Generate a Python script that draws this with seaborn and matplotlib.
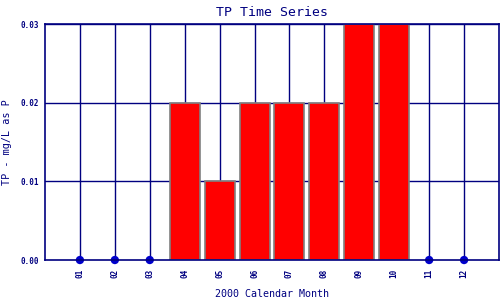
import matplotlib
matplotlib.use("Agg")
import matplotlib.pyplot as plt
import seaborn as sns
import pandas as pd

months = ["01", "02", "03", "04", "05", "06", "07", "08", "09", "10", "11", "12"]
tp_values = [0.0, 0.0, 0.0, 0.02, 0.01, 0.02, 0.02, 0.02, 0.03, 0.03, 0.0, 0.0]
y_ticks = [0.00, 0.01, 0.02, 0.03]
y_tick_labels = ["0.00", "0.01", "0.02", "0.03"]

navy = "#000080"
dot_blue = "#0000CC"

sns.set_style("white")
plt.rcParams["font.family"] = ["DejaVu Sans Mono"]

df = pd.DataFrame({"m": [int(m) for m in months], "tp": tp_values})
nz = df[df.tp > 0]
zero = df[df.tp == 0]

fig = plt.figure(figsize=(5, 3), dpi=100)
ax = fig.add_axes([0.09, 0.1333, 0.908, 0.7867])

for m in range(1, 13):
    ax.axvline(m, color=navy, lw=1, zorder=0)
for yv in y_ticks[1:]:
    ax.axhline(yv, color=navy, lw=1, zorder=0)

sns.barplot(data=nz, x="m", y="tp", native_scale=True, width=0.86,
            color="#FF0000", edgecolor="#808080", linewidth=1.2,
            saturation=1, ax=ax, zorder=2)
sns.scatterplot(data=zero, x="m", y="tp", color=dot_blue, s=36,
                edgecolor="none", ax=ax, zorder=4, clip_on=False)

ax.set_xlim(0, 13)
ax.set_ylim(0, 0.03)
ax.set_xticks(range(1, 13))
ax.set_xticklabels(months, rotation=90, fontsize=5.5, color=navy, fontweight="bold")
ax.set_yticks(y_ticks)
ax.set_yticklabels(y_tick_labels, fontsize=5.5, color=navy, fontweight="bold")
ax.tick_params(axis="x", length=0, pad=6)
ax.tick_params(axis="y", length=0, pad=4)
for s in ax.spines.values():
    s.set_color(navy)
    s.set_linewidth(1.2)
    s.set_zorder(5)

ax.set_title("TP Time Series", color=navy, fontsize=9.5, pad=6)
ax.set_xlabel("2000 Calendar Month", color=navy, fontsize=7.2, va="center")
ax.set_ylabel("TP - mg/L as P", color=navy, fontsize=7.3, va="center")
ax.xaxis.set_label_coords(0.499, -0.142)
ax.yaxis.set_label_coords(-0.083, 0.5)

fig.savefig("out.png", dpi=100)
